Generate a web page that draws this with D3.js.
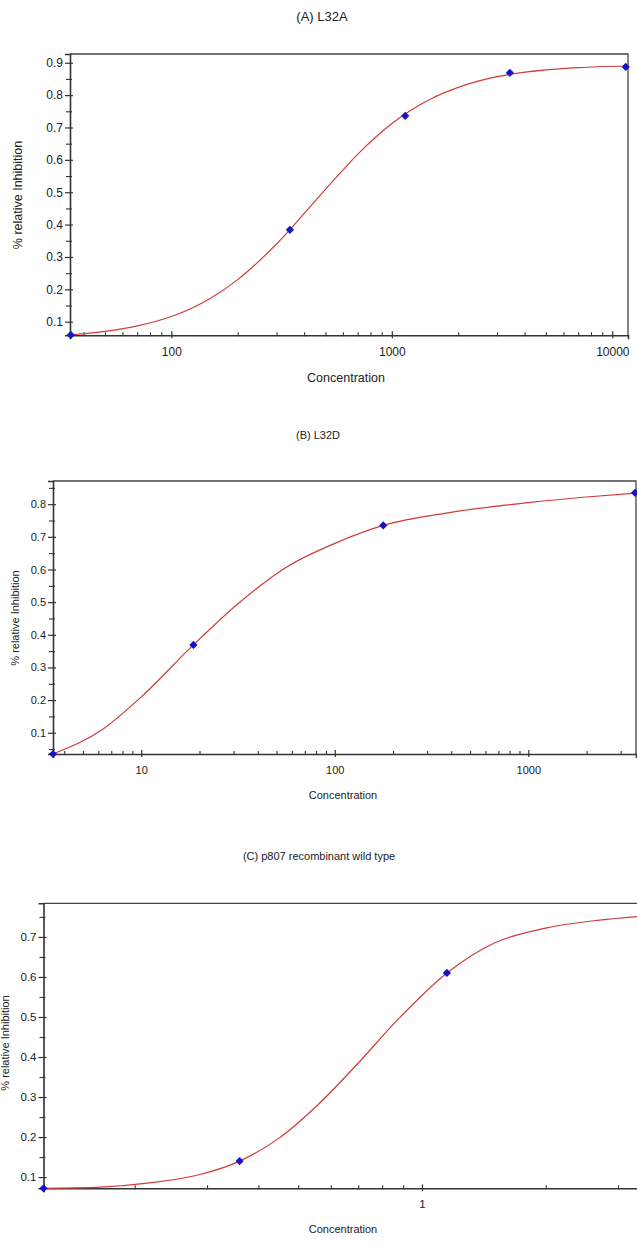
<!DOCTYPE html>
<html>
<head>
<meta charset="utf-8">
<script src="https://cdn.jsdelivr.net/npm/d3@7"></script>
<style>
body{margin:0;background:#fff;}
text{font-family:"Liberation Sans",Arial,sans-serif;fill:#222;}
</style>
</head>
<body>
<svg id="chart" width="637" height="1247"></svg>
<script>
// panel A : L32A
var a_conc=[35,345,1150,3430,11500];
var a_inhib=[0.059,0.384,0.736,0.869,0.887];
var a_fitConc=[35,50,70,100,150,200,300,500,700,1000,1500,2000,3000,5000,7000,11780];
var a_fitInhib=[0.059,0.070,0.087,0.116,0.172,0.230,0.340,0.509,0.617,0.712,0.788,0.824,0.857,0.878,0.885,0.890];
var a_xTicks=[100,1000,10000];
var a_yTicks=[0.1,0.2,0.3,0.4,0.5,0.6,0.7,0.8,0.9];

// panel B : L32D
var b_conc=[3.5,18.6,178,3560];
var b_inhib=[0.035,0.369,0.735,0.835];
var b_fitConc=[3.5,6.3,10,18.6,31.6,56.2,100,178,398,1000,1995,3600];
var b_fitInhib=[0.035,0.11,0.21,0.369,0.495,0.607,0.68,0.735,0.775,0.805,0.822,0.834];
var b_xTicks=[10,100,1000];
var b_yTicks=[0.1,0.2,0.3,0.4,0.5,0.6,0.7,0.8];

// panel C : p807 recombinant wild type
var c_conc=[0.12,0.36,1.15];
var c_inhib=[0.072,0.14,0.61];
var c_fitConc=[0.12,0.165,0.22,0.29,0.36,0.45,0.56,0.7,0.88,1.15,1.5,2,2.7,3.45];
var c_fitInhib=[0.072,0.075,0.086,0.107,0.14,0.198,0.282,0.385,0.497,0.61,0.685,0.722,0.742,0.752];
var c_xTicks=[1];
var c_yTicks=[0.1,0.2,0.3,0.4,0.5,0.6,0.7];

var svg=d3.select("#chart");

function minorLog(dom){
    var out=[];
    for(var e=-3;e<6;e++){
        for(var k=2;k<10;k++){
            var v=k*Math.pow(10,e);
            if(v>dom[0]*1.01 && v<dom[1]*0.99) out.push(v);
        }
    }
    return out;
}
function minorLin(dom){
    var out=[];
    for(var i=1;i<20;i++){
        var v=i*0.05;
        if(v>dom[0]+0.005 && v<dom[1]-0.005 && i%2==1) out.push(+v.toFixed(2));
    }
    return out;
}

function panel(p){
    var x=d3.scaleLog().domain(p.xDom).range(p.xRange);
    var y=d3.scaleLinear().domain(p.yDom).range(p.yRange);
    var g=svg.append("g");

    // title
    g.append("text")
        .attr("x",p.titleX).attr("y",p.titleY)
        .attr("text-anchor","middle")
        .style("font-size",p.titleSize+"px")
        .text(p.title);

    // frame top & right
    g.append("path")
        .attr("d","M"+p.xRange[0]+","+p.yRange[1]+"H"+p.xRange[1]+"V"+p.yRange[0])
        .attr("fill","none").attr("stroke","#444").attr("stroke-width",1.3);

    // y axis
    var yAx=g.append("g").attr("transform","translate("+p.xRange[0]+",0)")
        .call(d3.axisLeft(y).tickValues(p.yTicks).tickSize(5).tickPadding(4).tickFormat(d3.format(".1f")));
    yAx.selectAll(".tick line").attr("x1",-5).attr("x2",3).attr("stroke","#333").attr("stroke-width",1.2);
    yAx.selectAll(".tick text").style("font-size",p.tickSize+"px").attr("x",-7);
    yAx.select(".domain").attr("stroke","#333").attr("stroke-width",1.6);
    var yMin=g.append("g").attr("transform","translate("+p.xRange[0]+",0)")
        .call(d3.axisLeft(y).tickValues(minorLin(p.yDom)).tickSize(3).tickFormat(""));
    yMin.select(".domain").remove();
    yMin.selectAll(".tick line").attr("x1",-4).attr("x2",2).attr("stroke","#333").attr("stroke-width",1.1);

    // x axis
    var xAx=g.append("g").attr("transform","translate(0,"+p.yRange[0]+")")
        .call(d3.axisBottom(x).tickValues(p.xTicks).tickSize(4).tickPadding(8).tickFormat(d3.format("d")));
    xAx.selectAll(".tick line").attr("y1",-4).attr("y2",3).attr("stroke","#333").attr("stroke-width",1.2);
    xAx.selectAll(".tick text").style("font-size",p.tickSize+"px");
    xAx.select(".domain").attr("stroke","#333").attr("stroke-width",1.6);
    var xMin=g.append("g").attr("transform","translate(0,"+p.yRange[0]+")")
        .call(d3.axisBottom(x).tickValues(minorLog(p.xDom)).tickSize(0).tickFormat(""));
    xMin.select(".domain").remove();
    xMin.selectAll(".tick line").attr("y1",-3).attr("y2",1).attr("stroke","#333").attr("stroke-width",1.1);

    // axis labels
    g.append("text")
        .attr("x",p.xLabelX).attr("y",p.xLabelY)
        .attr("text-anchor","middle")
        .style("font-size",p.labelSize+"px")
        .text("Concentration");
    g.append("text")
        .attr("transform","translate("+p.yLabelX+","+p.yLabelY+") rotate(-90)")
        .attr("text-anchor","middle")
        .style("font-size",p.labelSize+"px")
        .text("% relative Inhibition");

    // fitted curve
    var fit=p.fitConc.map(function(c,i){return [c,p.fitInhib[i]];});
    var line=d3.line()
        .x(function(d){return x(d[0]);})
        .y(function(d){return y(d[1]);})
        .curve(d3.curveMonotoneX);
    g.append("path").datum(fit)
        .attr("d",line)
        .attr("fill","none")
        .attr("stroke","#d23a3a")
        .attr("stroke-width",1.2);

    // points (square turned 45 degrees)
    var pts=p.conc.map(function(c,i){return [c,p.inhib[i]];});
    g.selectAll(".pt").data(pts).enter()
        .append("path")
        .attr("class","pt")
        .attr("d",d3.symbol().type(d3.symbolSquare).size(34))
        .attr("transform",function(d){return "translate("+x(d[0])+","+y(d[1])+") rotate(45)";})
        .attr("fill","#1414c8");
}

panel({title:"(A) L32A",titleX:322,titleY:21,titleSize:13,
    xDom:[34.7,11780],xRange:[70,628],yDom:[0.058,0.927],yRange:[335.3,54],
    xTicks:a_xTicks,yTicks:a_yTicks,tickSize:12,labelSize:12.5,
    xLabelX:346,xLabelY:382,yLabelX:22,yLabelY:195,
    conc:a_conc,inhib:a_inhib,fitConc:a_fitConc,fitInhib:a_fitInhib});

panel({title:"(B) L32D",titleX:318,titleY:439,titleSize:11,
    xDom:[3.5,3600],xRange:[53,636],yDom:[0.035,0.871],yRange:[754,481],
    xTicks:b_xTicks,yTicks:b_yTicks,tickSize:11,labelSize:11,
    xLabelX:343,xLabelY:799,yLabelX:19,yLabelY:618,
    conc:b_conc,inhib:b_inhib,fitConc:b_fitConc,fitInhib:b_fitInhib});

panel({title:"(C) p807 recombinant wild type",titleX:319,titleY:860,titleSize:11,
    xDom:[0.12,3.45],xRange:[43.5,643],yDom:[0.072,0.784],yRange:[1188.3,903.3],
    xTicks:c_xTicks,yTicks:c_yTicks,tickSize:11.5,labelSize:11,
    xLabelX:343,xLabelY:1233,yLabelX:9,yLabelY:1043,
    conc:c_conc,inhib:c_inhib,fitConc:c_fitConc,fitInhib:c_fitInhib});
</script>
</body>
</html>
